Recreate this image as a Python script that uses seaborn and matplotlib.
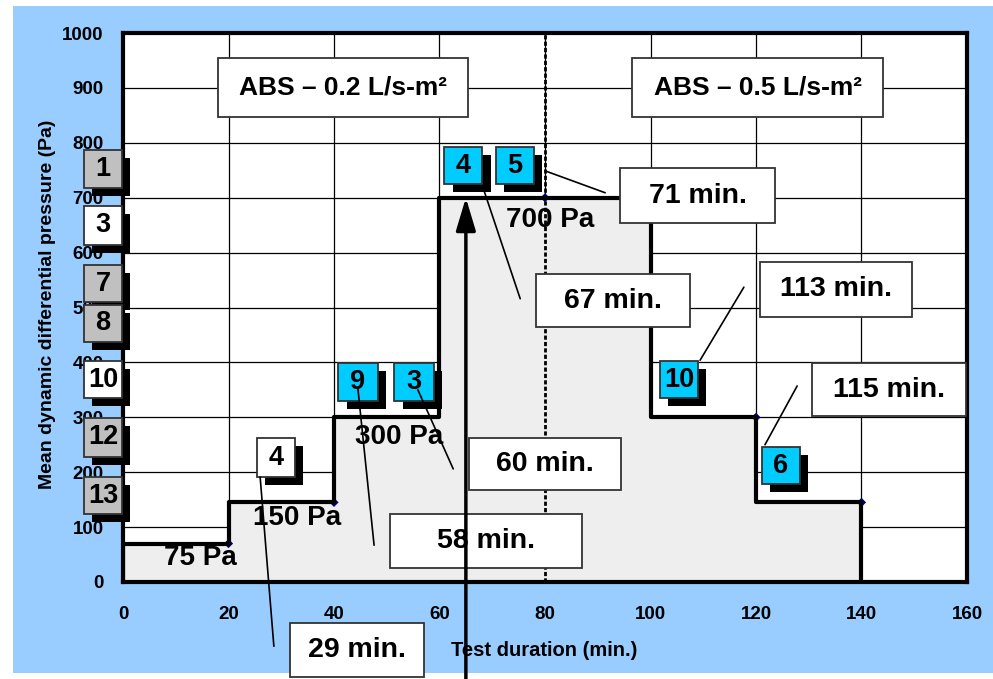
""" Step pressure test profile with failure callouts """
import pandas as pd
import seaborn as sns
import matplotlib.pyplot as plt
from matplotlib.patches import Rectangle, FancyArrowPatch

# pressure steps of the test (start / end of each step in min., level in Pa)
step_start = [0, 20, 40, 60, 100, 120]
step_end = [20, 40, 60, 100, 120, 140]
step_pressure = [70, 145, 300, 700, 300, 145]
step_labels = ["75 Pa", "150 Pa", "300 Pa", "700 Pa"]

# small series markers on the profile
marker_x = [20, 40, 80, 120, 140]
marker_y = [70, 145, 700, 300, 145]

x_ticks = list(range(0, 161, 20))
y_ticks = list(range(0, 1001, 100))

section_split = 80
event_time = 65

section_titles = ["ABS \u2013 0.2 L/s-m\u00b2", "ABS \u2013 0.5 L/s-m\u00b2"]
callout_texts = ["71 min.", "67 min.", "113 min.", "115 min.", "60 min.", "58 min.", "29 min."]
blue_labels = ["4", "5", "9", "3", "10", "6"]
side_labels = ["1", "3", "7", "8", "10", "12", "13"]
side_grey = [True, False, True, True, False, True, True]

BLUE_BG = "#99ccff"
CYAN = "#00ccff"
GREY = "#c0c0c0"
FILL = "#eeeeee"

sns.set_theme(style="white")
plt.rcParams["font.family"] = ["Liberation Sans", "DejaVu Sans"]
plt.rcParams["font.weight"] = "bold"
plt.rcParams["text.color"] = "black"
plt.rcParams["axes.labelcolor"] = "black"
plt.rcParams["xtick.color"] = "black"
plt.rcParams["ytick.color"] = "black"


def box(ax, x0, x1, y0, y1, text, face="white", size=20.5, shadow=False):
    """Draw a framed text box in data coordinates"""
    if shadow:
        ax.add_patch(Rectangle((x0 + 1.6, y0 - 14.5), x1 - x0, y1 - y0,
                               facecolor="black", edgecolor="none",
                               zorder=5, clip_on=False))
    ax.add_patch(Rectangle((x0, y0), x1 - x0, y1 - y0, facecolor=face,
                           edgecolor="#333333", lw=1.3, zorder=5.1, clip_on=False))
    ax.text((x0 + x1) / 2, (y0 + y1) / 2, text, ha="center", va="center",
            fontsize=size, fontweight="bold", color="black", zorder=5.2, clip_on=False)


def leader(ax, p0, p1):
    ax.plot([p0[0], p1[0]], [p0[1], p1[1]], color="black", lw=1.2,
            zorder=8, clip_on=False)


fig = plt.figure(figsize=(9.93, 6.79), dpi=100)
fig.patch.set_facecolor("white")
fig.patches.append(Rectangle((13 / 993, 6 / 679), 980 / 993, 667 / 679,
                             transform=fig.transFigure, facecolor=BLUE_BG,
                             edgecolor="none", zorder=-10))
ax = fig.add_axes([123 / 993, 97 / 679, 844 / 993, 549 / 679])
ax.set_zorder(1)
ax.set_facecolor("white")

# outline of the profile built from the step table
xs, ys = [0], [0]
for s, e, p in zip(step_start, step_end, step_pressure):
    xs += [s, e]
    ys += [p, p]
xs.append(step_end[-1])
ys.append(0)
profile = pd.DataFrame({"time": xs, "pressure": ys})

ax.fill_between(profile["time"], profile["pressure"], color=FILL, zorder=1)
sns.scatterplot(x=marker_x, y=marker_y, marker="D", s=22, color="navy",
                edgecolor="none", zorder=2.8, ax=ax)
sns.lineplot(data=profile, x="time", y="pressure", sort=False, estimator=None,
             color="black", lw=3, zorder=3, ax=ax)

ax.axvline(section_split, color="black", lw=2, ls=(0, (1.5, 0.8)), zorder=2.5)

ax.set_xlim(0, 160)
ax.set_ylim(0, 1000)
ax.set_xticks(x_ticks)
ax.set_yticks(y_ticks)
ax.grid(True, color="black", lw=0.9)
ax.set_axisbelow(True)
ax.tick_params(axis="both", length=0, labelsize=13.5, labelcolor="black")
ax.tick_params(axis="y", pad=14)
ax.tick_params(axis="x", pad=17)
for sp in ax.spines.values():
    sp.set_visible(True)
    sp.set_color("black")
    sp.set_linewidth(3)
    sp.set_zorder(2.6)

ax.set_xlabel("Test duration (min.)", fontsize=14.5, fontweight="bold", color="black")
ax.set_ylabel("Mean dynamic differential pressure (Pa)", fontsize=14,
              fontweight="bold", color="black")
ax.xaxis.set_label_coords(0.499, -0.124)
ax.xaxis.label.set_va("center")
ax.yaxis.set_label_coords(-0.089, 0.505)
ax.yaxis.label.set_va("center")

# step level labels
label_pos = [(14.6, 44), (33.0, 117), (52.3, 264), (80.9, 659)]
for (lx, ly), txt in zip(label_pos, step_labels):
    ax.text(lx, ly, txt, ha="center", va="center", fontsize=20, color="black", zorder=4)

# section titles
box(ax, 18.0, 65.4, 847, 954, section_titles[0], size=19)
box(ax, 96.5, 144.1, 847, 954, section_titles[1], size=19)

# failure time callouts
callout_boxes = [(94.2, 123.6, 654, 754), (78.3, 107.5, 464, 561),
                 (120.8, 149.6, 483, 583), (130.6, 159.8, 302, 399),
                 (65.6, 94.4, 168, 262), (50.6, 87.0, 25.5, 124),
                 (31.7, 57.1, -173, -74.7)]
for (x0, x1, y0, y1), txt in zip(callout_boxes, callout_texts):
    box(ax, x0, x1, y0, y1, txt)

# numbered specimen tags on the profile
blue_boxes = [(60.9, 68.1, 725, 792), (70.7, 77.9, 725, 792),
              (40.8, 48.3, 330, 399), (51.4, 58.9, 330, 399),
              (101.8, 109.0, 335, 402), (121.1, 128.3, 178, 246)]
for (x0, x1, y0, y1), txt in zip(blue_boxes, blue_labels):
    box(ax, x0, x1, y0, y1, txt, face=CYAN, size=19.5, shadow=True)
box(ax, 25.4, 32.6, 191, 262, "4", size=19.5, shadow=True)

# specimen tags along the y axis
side_y = [(718, 787), (614, 685), (510, 577), (437, 505),
          (335, 402), (228, 299), (124, 191)]
for (y0, y1), txt, g in zip(side_y, side_labels, side_grey):
    box(ax, -7.4, -0.2, y0, y1, txt, face=GREY if g else "white",
        size=19.5, shadow=True)

# leader lines from tags to callouts
leader(ax, (80.0, 749), (91.4, 709))
leader(ax, (68.4, 714), (75.3, 516))
leader(ax, (109.4, 404), (117.7, 537))
leader(ax, (121.7, 250), (127.8, 357))
leader(ax, (55.9, 350), (62.6, 206))
leader(ax, (44.5, 355), (47.6, 67))
leader(ax, (26.0, 191), (28.6, -117))

# event arrow
ax.add_patch(FancyArrowPatch((event_time, -185), (event_time, 700),
                             arrowstyle="-|>,head_length=0.4,head_width=0.12",
                             mutation_scale=50, color="black", lw=2.5,
                             shrinkA=0, shrinkB=0, zorder=9, clip_on=False))

fig.savefig("out.png", dpi=100)
